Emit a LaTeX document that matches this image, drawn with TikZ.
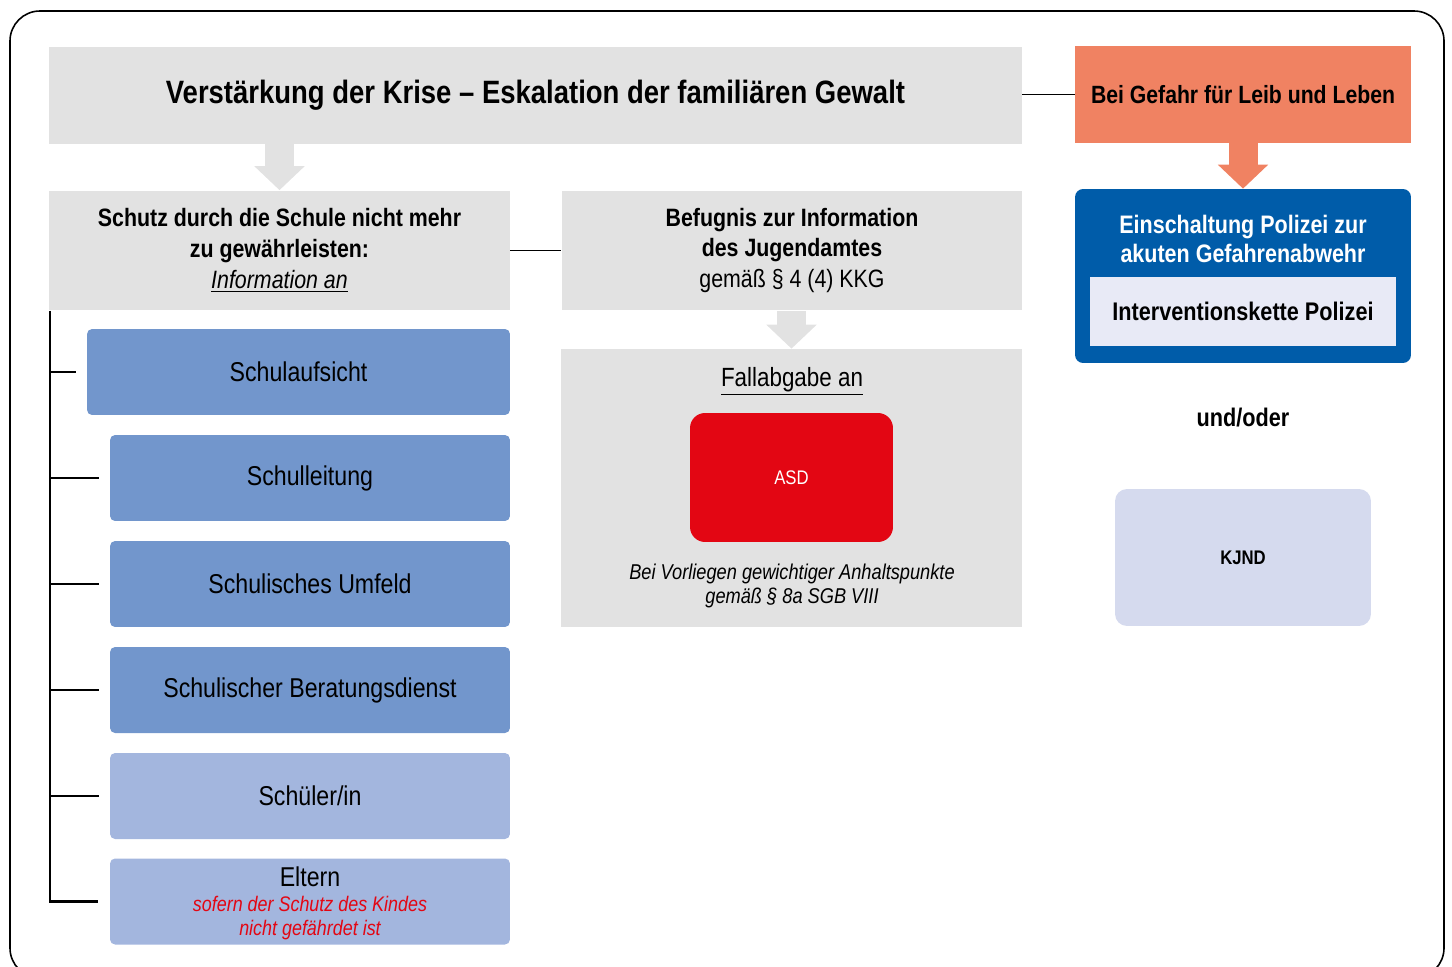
\documentclass[tikz,border=0pt]{standalone}
\usepackage{fontspec}
\setmainfont{Liberation Sans}[FakeStretch=0.85]
\usetikzlibrary{arrows.meta}

\definecolor{boxgray}{RGB}{226,226,226}
\definecolor{dangerorange}{RGB}{240,130,98}
\definecolor{policeblue}{RGB}{0,92,169}
\definecolor{policelight}{RGB}{232,234,246}
\definecolor{kjndlight}{RGB}{213,218,238}
\definecolor{schoolblue}{RGB}{114,150,204}
\definecolor{pupilblue}{RGB}{163,182,222}
\definecolor{asdred}{RGB}{227,6,19}

\tikzstyle{graybox}=[fill=boxgray, inner sep=0pt, align=center]
\tikzstyle{headbox}=[graybox, minimum width=9.22cm, minimum height=2.4cm, font=\bfseries\fontsize{14.3}{17.5}\selectfont]
\tikzstyle{schoolbox}=[fill=schoolblue, rounded corners=0.1cm, minimum width=8cm, minimum height=1.72cm, inner sep=0pt, align=center, font=\fontsize{15.5}{14}\selectfont]
\tikzstyle{pupilbox}=[schoolbox, fill=pupilblue]
\tikzstyle{link}=[draw, line width=1.1pt, -]
\tikzstyle{tree}=[draw, line width=1.2pt, -]
\tikzstyle{blockarrow}=[line width=0.58cm, -{Triangle[width=0.98cm,length=0.48cm]}]

\newcommand\remark[1]{{\color{asdred}\itshape\fontsize{12}{13}\selectfont #1}}

\begin{document}
\begin{tikzpicture}[x=0.02cm, y=-0.02cm]
    \useasboundingbox (0,0) rectangle (1452,966);
    \draw[line width=0.9pt, rounded corners=0.6cm] (10,11) rectangle (1444,978);

    % top row
    \node[graybox, minimum width=19.46cm, minimum height=1.94cm, font=\bfseries\fontsize{18.4}{20}\selectfont] (crisis) at (535.5,95.5) {Verstärkung der Krise – Eskalation der familiären Gewalt};
    \node[graybox, fill=dangerorange, minimum width=6.72cm, minimum height=1.94cm, font=\bfseries\fontsize{14.2}{16}\selectfont] (danger) at (1243,94.5) {Bei Gefahr für Leib und Leben};
    \path[link] (crisis.east |- danger.west) -- (danger.west);

    % school and youth office
    \node[headbox] (school) at (279.5,250.5) {Schutz durch die Schule nicht mehr\\zu gewährleisten:\\\textnormal{\textit{\underline{Information an}}}};
    \node[headbox] (youth) at (792,250.5) {Befugnis zur Information\\des Jugendamtes\\\textnormal{gemäß § 4 (4) KKG}};
    \path[link] (school) -- (youth);

    \node[graybox, minimum width=9.22cm, minimum height=5.56cm] (handover) at (791.5,488) {};
    \node[font=\fontsize{15}{17}\selectfont] (handovertitle) at (792,381) {\underline{Fallabgabe an}};
    \node[fill=asdred, rounded corners=0.3cm, minimum width=4.06cm, minimum height=2.58cm, text=white, font=\fontsize{11.2}{12}\selectfont] (asd) at (791.5,477.5) {ASD};
    \node[align=center, font=\itshape\fontsize{12.2}{13.5}\selectfont] (asdnote) at (792,586) {Bei Vorliegen gewichtiger Anhaltspunkte\\gemäß § 8a SGB VIII};

    % police
    \node[fill=policeblue, rounded corners=0.16cm, minimum width=6.72cm, minimum height=3.48cm] (police) at (1243,276) {};
    \node[text=white, align=center, font=\bfseries\fontsize{14.4}{17}\selectfont] (policetitle) at (1243,239) {Einschaltung Polizei zur\\akuten Gefahrenabwehr};
    \node[fill=policelight, minimum width=6.12cm, minimum height=1.38cm, font=\bfseries\fontsize{14.5}{16}\selectfont] (chain) at (1243,311.5) {Interventionskette Polizei};
    \node[font=\bfseries\fontsize{14.5}{16}\selectfont] (andor) at (1243,418) {und/oder};
    \node[fill=kjndlight, rounded corners=0.24cm, minimum width=5.12cm, minimum height=2.74cm, font=\bfseries\fontsize{11.2}{12}\selectfont] (kjnd) at (1243,557.5) {KJND};

    % block arrows
    \draw[blockarrow, boxgray] (crisis.south -| school.north) -- (school.north);
    \draw[blockarrow, boxgray] (youth.south -| handover.north) -- (handover.north);
    \draw[blockarrow, dangerorange] (danger.south) -- (police.north);

    % recipients
    \node[schoolbox, minimum width=8.46cm] (aufsicht) at (298.5,372) {Schulaufsicht};
    \foreach \pos/\name/\style/\label in {{(310,478)/leitung/schoolbox/Schulleitung}, {(310,584)/umfeld/schoolbox/Schulisches Umfeld}, {(310,690)/beratung/schoolbox/Schulischer Beratungsdienst}, {(310,796)/pupil/pupilbox/{Schüler/in}}}
        \node[\style] (\name) at \pos {\label};
    \node[pupilbox, text depth=0pt] (eltern) at (310,901.5) {Eltern\\\remark{sofern der Schutz des Kindes}\\\remark{nicht gefährdet ist}};

    \coordinate (trunk) at ([xshift=0.02cm]school.south west);
    \path[tree] (trunk) |- ([xshift=-0.24cm]eltern.west);
    \foreach \name in {aufsicht, leitung, umfeld, beratung, pupil}
        \path[tree] (trunk |- \name.west) -- ([xshift=-0.22cm]\name.west);
\end{tikzpicture}
\end{document}
